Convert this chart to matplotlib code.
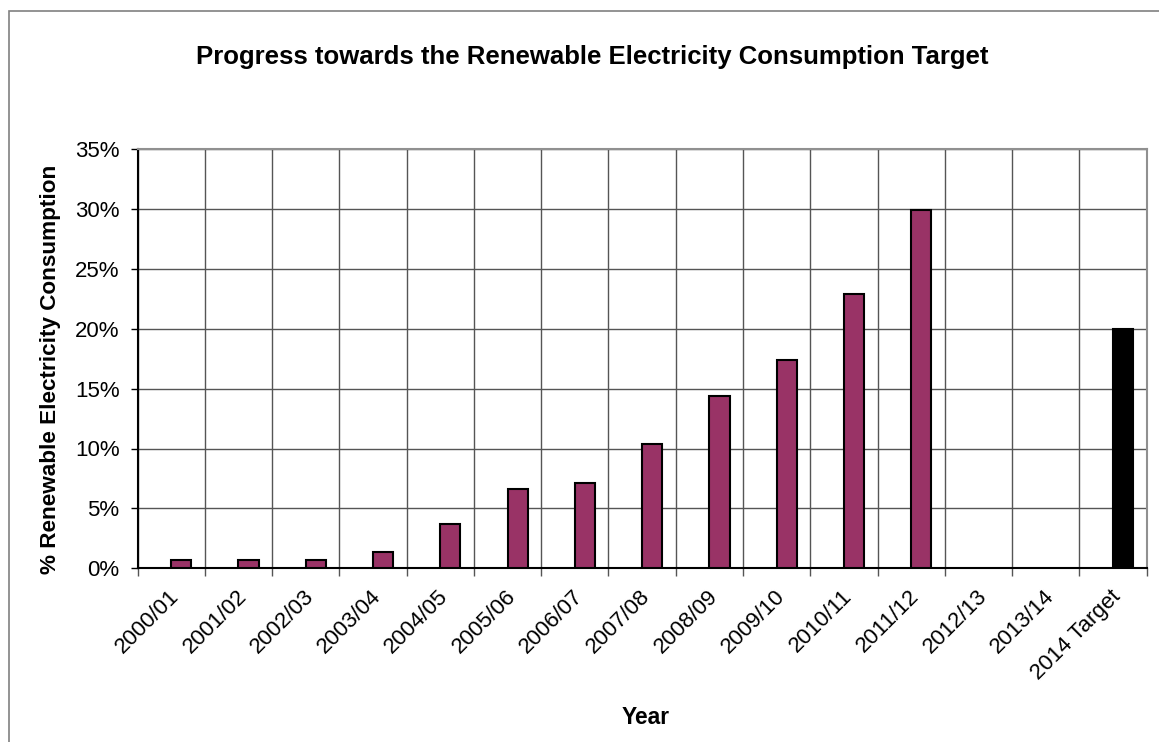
import matplotlib
matplotlib.use("Agg")
import matplotlib.pyplot as plt
import matplotlib.transforms as mtransforms
import numpy as np
from matplotlib.patches import Rectangle
from matplotlib.ticker import FuncFormatter, FixedLocator

plt.rcParams['font.family'] = ['Liberation Sans', 'DejaVu Sans']

years = ["2000/01", "2001/02", "2002/03", "2003/04", "2004/05", "2005/06",
         "2006/07", "2007/08", "2008/09", "2009/10", "2010/11", "2011/12",
         "2012/13", "2013/14", "2014 Target"]
share = [0.7, 0.7, 0.7, 1.4, 3.7, 6.6, 7.1, 10.4, 14.4, 17.4, 22.9, 29.9,
         np.nan, np.nan, 20.0]
bar_colors = ["#993366"] * 14 + ["#000000"]

W, H = 1159, 742
fig = plt.figure(figsize=(W / 100, H / 100), dpi=100)

# outer chart frame (open at the right and bottom edges)
fig.patches.append(Rectangle((9 / W, -0.1), 1.2, 1.1 - 11 / H, transform=fig.transFigure,
                             fill=False, edgecolor="#808080", linewidth=1.2))

left, right, top, bottom = 137.5, 1146.7, 149, 568.3
ax = fig.add_axes([left / W, 1 - bottom / H, (right - left) / W, (bottom - top) / H])

x = np.arange(len(years))
ax.bar(x + 0.15, share, width=0.30, color=bar_colors, edgecolor="black",
       linewidth=1.5, zorder=3)

ax.set_xlim(-0.5, len(years) - 0.5)
ax.set_ylim(0, 35)

ax.yaxis.set_major_locator(FixedLocator(np.arange(0, 36, 5)))
ax.yaxis.set_major_formatter(FuncFormatter(lambda v, p: f"{v:.0f}%"))
ax.tick_params(axis="y", direction="out", length=5, width=1, pad=8,
               labelsize=16, colors="black")

ax.set_xticks(x)
ax.set_xticklabels(years, rotation=45, ha="right", va="center",
                   rotation_mode="anchor", fontsize=16)
ax.tick_params(axis="x", which="major", length=0, pad=18)
ax.set_xticks(np.arange(-0.5, len(years)), minor=True)
ax.tick_params(axis="x", which="minor", direction="out", length=6, width=1,
               color="#555555")

# nudge the slanted category labels slightly to the right
shift = mtransforms.ScaledTranslation(5 / 100, 0, fig.dpi_scale_trans)
for lbl in ax.get_xticklabels():
    lbl.set_transform(lbl.get_transform() + shift)

ax.grid(True, axis="y", which="major", color="#555555", linewidth=1, zorder=0)
ax.grid(True, axis="x", which="minor", color="#555555", linewidth=1, zorder=0)
ax.set_axisbelow(True)

for side in ("left", "bottom"):
    ax.spines[side].set_color("black")
    ax.spines[side].set_linewidth(1.5)
for side in ("top", "right"):
    ax.spines[side].set_color("#909090")
    ax.spines[side].set_linewidth(1.5)

fig.text(592.5 / W, 1 - 57 / H, "Progress towards the Renewable Electricity Consumption Target",
         ha="center", va="center", fontsize=18.5, fontweight="bold")
fig.text(646 / W, 1 - 717 / H, "Year", ha="center", va="center",
         fontsize=16.4, fontweight="bold")
fig.text(51 / W, 1 - 369 / H, "% Renewable Electricity Consumption", ha="center",
         va="center", rotation=90, fontsize=16.2, fontweight="bold")

fig.savefig("out.png", dpi=100)
